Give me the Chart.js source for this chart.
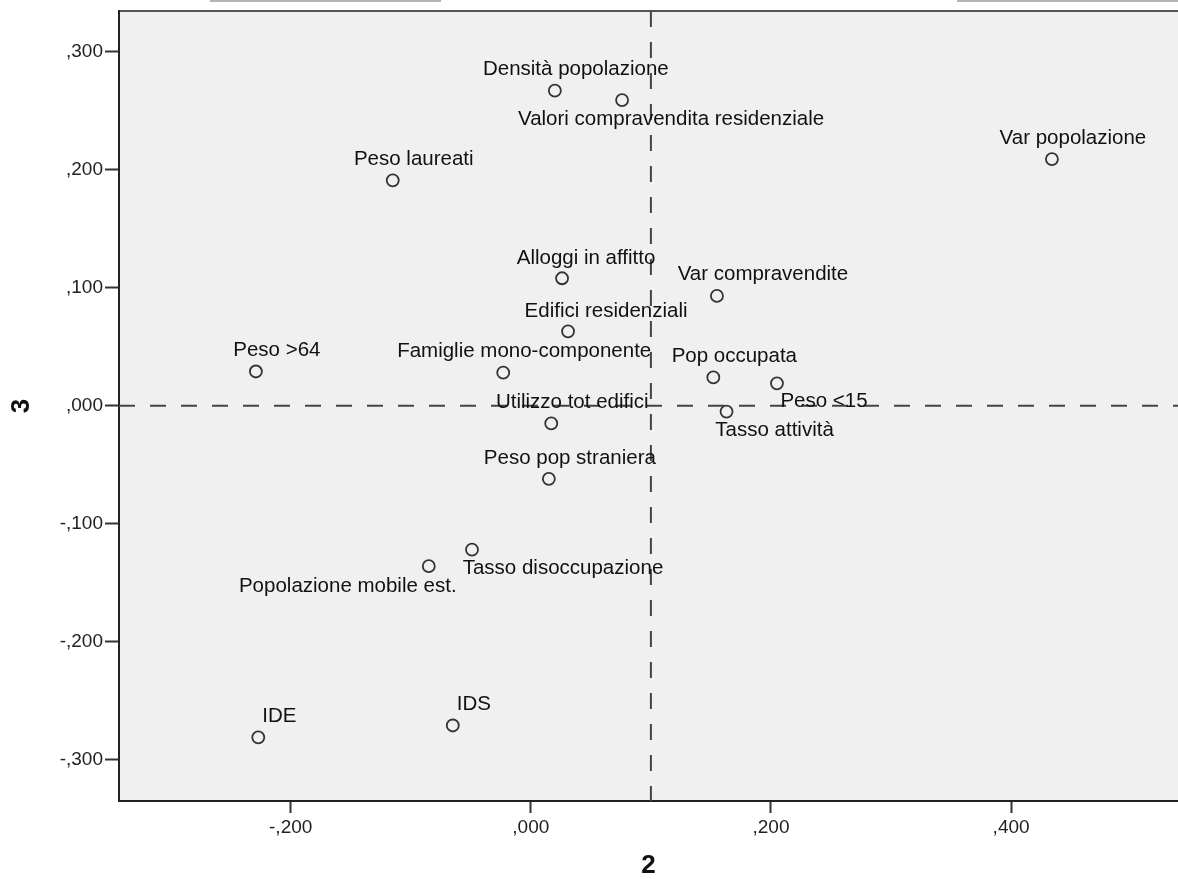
<!DOCTYPE html>
<html>
<head>
<meta charset="utf-8">
<script src="https://cdn.jsdelivr.net/npm/chart.js@4/dist/chart.umd.min.js"></script>
<style>
  html, body { margin: 0; padding: 0; background: #fff; overflow: hidden; }
  canvas { display: block; }
</style>
</head>
<body>
<canvas id="myChart" width="1178" height="879"></canvas>
<script>
var names = [
  'Densità popolazione', 'Valori compravendita residenziale', 'Var popolazione',
  'Peso laureati', 'Alloggi in affitto', 'Var compravendite', 'Edifici residenziali',
  'Peso >64', 'Famiglie mono-componente', 'Pop occupata', 'Peso <15', 'Tasso attività',
  'Utilizzo tot edifici', 'Peso pop straniera', 'Tasso disoccupazione',
  'Popolazione mobile est.', 'IDS', 'IDE'
];
var dim2 = [0.020, 0.076, 0.434, -0.115, 0.026, 0.155, 0.031, -0.229, -0.023, 0.152, 0.205, 0.163, 0.017, 0.015, -0.049, -0.085, -0.065, -0.227];
var dim3 = [0.267, 0.259, 0.209, 0.191, 0.108, 0.093, 0.063, 0.029, 0.028, 0.024, 0.019, -0.005, -0.015, -0.062, -0.122, -0.136, -0.271, -0.281];
var xTicks = [-0.2, 0, 0.2, 0.4];
var yTicks = [-0.3, -0.2, -0.1, 0, 0.1, 0.2, 0.3];
var refX = 0.1, refY = 0;

// label placement (pixel offset of label centre from point)
var labelOffset = {
  'Valori compravendita residenziale': [49, 19],
  'Var compravendite': [46, -22],
  'Edifici residenziali': [38, -20],
  'Alloggi in affitto': [24, -20],
  'Peso <15': [47, 18],
  'Tasso attività': [48, 19],
  'Tasso disoccupazione': [91, 19],
  'Popolazione mobile est.': [-81, 20]
};

var FONT = "'Liberation Sans', Arial, sans-serif";

function fmt(v) {
  var s = Math.abs(v).toFixed(3).replace('0.', ',');
  return (v < 0 ? '-' : '') + s;
}

var points = [];
for (var i = 0; i < names.length; i++) {
  points.push({ x: dim2[i], y: dim3[i], name: names[i] });
}

var framePlugin = {
  id: 'frame',
  beforeDraw: function (chart) {
    var c = chart.ctx, a = chart.chartArea;
    c.save();
    c.fillStyle = '#f0f0f0';
    c.fillRect(a.left, a.top, a.right - a.left, a.bottom - a.top);
    // top border
    c.strokeStyle = '#555';
    c.lineWidth = 2;
    c.beginPath();
    c.moveTo(a.left, a.top);
    c.lineTo(a.right, a.top);
    c.stroke();
    // bits of lines at the very top
    c.strokeStyle = '#9a9a9a';
    c.lineWidth = 1.5;
    c.beginPath();
    c.moveTo(210, 1); c.lineTo(441, 1);
    c.moveTo(957, 1); c.lineTo(1178, 1);
    c.stroke();
    c.restore();
  },
  beforeDatasetsDraw: function (chart) {
    var c = chart.ctx, a = chart.chartArea;
    var px = chart.scales.x.getPixelForValue(refX);
    var py = chart.scales.y.getPixelForValue(refY);
    c.save();
    c.strokeStyle = '#444';
    c.lineWidth = 2;
    c.setLineDash([16, 15]);
    c.beginPath();
    c.moveTo(a.left, py); c.lineTo(a.right, py);
    c.stroke();
    c.beginPath();
    c.moveTo(px, a.top); c.lineTo(px, a.bottom);
    c.stroke();
    c.restore();
  },
  afterDatasetsDraw: function (chart) {
    var c = chart.ctx;
    var meta = chart.getDatasetMeta(0);
    c.save();
    c.font = '20.5px ' + FONT;
    c.fillStyle = '#111';
    c.textAlign = 'center';
    c.textBaseline = 'middle';
    meta.data.forEach(function (el, idx) {
      var off = labelOffset[names[idx]] || [21, -21];
      c.fillText(names[idx], el.x + off[0], el.y + off[1]);
    });
    c.restore();
  }
};

var ctx = document.getElementById('myChart');
var myChart = new Chart(ctx, {
  type: 'scatter',
  data: {
    datasets: [{
      data: points,
      pointStyle: 'circle',
      pointRadius: 6,
      pointHoverRadius: 6,
      borderColor: '#333',
      borderWidth: 1.8,
      backgroundColor: 'transparent'
    }]
  },
  options: {
    responsive: false,
    animation: false,
    devicePixelRatio: 1,
    layout: { autoPadding: false, padding: { top: 11, right: 0, left: 0, bottom: 0 } },
    plugins: { legend: { display: false }, tooltip: { enabled: false } },
    scales: {
      x: {
        type: 'linear',
        min: -0.343,
        max: 0.539,
        afterBuildTicks: function (axis) {
          axis.ticks = xTicks.map(function (v) { return { value: v }; });
        },
        afterFit: function (axis) {
          axis.height = 78;
          axis.paddingLeft = 0;
          axis.paddingRight = 0;
        },
        ticks: {
          callback: function (v) { return fmt(v); },
          color: '#222',
          font: { family: FONT, size: 19 },
          padding: 3,
          maxRotation: 0
        },
        grid: { drawOnChartArea: false, tickLength: 12, tickWidth: 2, tickColor: '#333' },
        border: { color: '#222', width: 2 },
        title: {
          display: true,
          text: '2',
          color: '#111',
          font: { family: FONT, size: 26, weight: 'bold', lineHeight: 1 },
          padding: { top: 0, bottom: 0 }
        }
      },
      y: {
        type: 'linear',
        min: -0.335,
        max: 0.3345,
        afterBuildTicks: function (axis) {
          axis.ticks = yTicks.map(function (v) { return { value: v }; });
        },
        afterFit: function (axis) {
          axis.width = 119;
          axis.paddingTop = 0;
          axis.paddingBottom = 0;
        },
        ticks: {
          callback: function (v) { return fmt(v); },
          color: '#222',
          font: { family: FONT, size: 19 },
          padding: 2
        },
        grid: { drawOnChartArea: false, tickLength: 14, tickWidth: 2, tickColor: '#333' },
        border: { color: '#222', width: 2 },
        title: {
          display: true,
          text: '3',
          color: '#111',
          font: { family: FONT, size: 26, weight: 'bold', lineHeight: 1 },
          padding: { top: 9, bottom: 0 }
        }
      }
    }
  },
  plugins: [framePlugin]
});
</script>
</body>
</html>
